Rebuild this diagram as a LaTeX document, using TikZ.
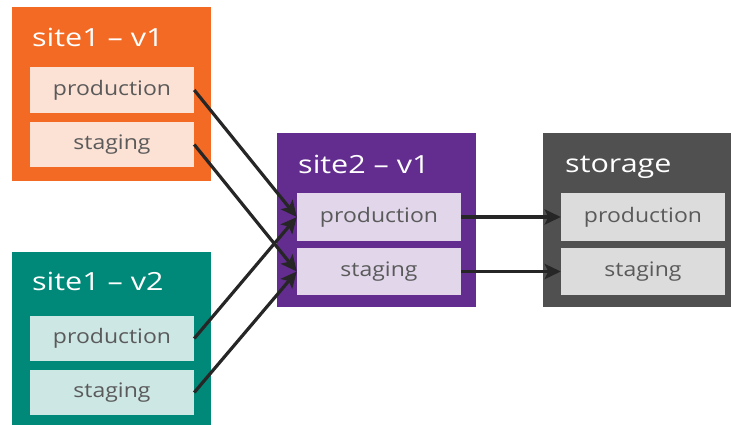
\documentclass[tikz,border=0pt]{standalone}
\usepackage{fontspec}
\setmainfont{Open Sans}
\newfontfamily\slotfont[FakeStretch=1.15]{Open Sans}
\newfontfamily\titlefont[FakeStretch=1.22]{Open Sans}
\usetikzlibrary{arrows.meta}

\definecolor{siteorange}{HTML}{F26A24}
\definecolor{orangelight}{HTML}{FCE1D5}
\definecolor{siteteal}{HTML}{008878}
\definecolor{teallight}{HTML}{CDE7E4}
\definecolor{sitepurple}{HTML}{632D8F}
\definecolor{purplelight}{HTML}{E1D6EA}
\definecolor{storegray}{HTML}{505050}
\definecolor{graylight}{HTML}{DCDCDC}
\definecolor{slottext}{HTML}{5A5A5A}
\definecolor{linkgray}{HTML}{262626}

\begin{document}
\begin{tikzpicture}[x=1pt, y=-1pt,
    >={Stealth[length=16pt, width=15pt, inset=3.5pt]},
    outerbox/.style={anchor=north west, inner sep=0pt, minimum width=199pt, minimum height=174pt},
    slot/.style={minimum width=164pt, minimum height=46pt, inner sep=0pt, text=slottext, font=\slotfont\fontsize{20}{20}\selectfont},
    title/.style={anchor=base west, inner sep=0pt, text=white, font=\titlefont\fontsize{25}{25}\selectfont},
    link/.style={->, line width=3.2pt, draw=linkgray}]
    \useasboundingbox (0,0) rectangle (731,424);
    \clip (0,0) rectangle (731,424);

    % Outer boxes
    \node[outerbox, fill=siteorange] (site1v1) at (12,7) {};
    \node[outerbox, fill=siteteal, minimum height=180pt] (site1v2) at (12,252) {};
    \node[outerbox, fill=sitepurple] (site2v1) at (277,133) {};
    \node[outerbox, fill=storegray, minimum width=200pt] (storage) at (543,133) {};

    % Titles
    \node[title] (site1v1title) at (32,46) {site1 – v1};
    \node[title] (site1v2title) at (32,290) {site1 – v2};
    \node[title] (site2v1title) at (298,173) {site2 – v1};
    \node[title] (storagetitle) at (565,172) {storage};

    % Slots
    \node[slot, fill=orangelight] (s1v1prod) at (112,90) {production};
    \node[slot, fill=orangelight, minimum height=45pt] (s1v1stag) at (112,144.5) {staging};
    \node[slot, fill=teallight, minimum height=45pt] (s1v2prod) at (112,338.5) {production};
    \node[slot, fill=teallight, minimum height=45pt] (s1v2stag) at (112,392.5) {staging};
    \node[slot, fill=purplelight, minimum height=48pt] (s2prod) at (379,217) {production};
    \node[slot, fill=purplelight, minimum height=47pt] (s2stag) at (379,271.5) {staging};
    \node[slot, fill=graylight, minimum height=48pt] (stprod) at (643,217) {production};
    \node[slot, fill=graylight, minimum height=47pt] (ststag) at (643,271.5) {staging};

    % Links
    \draw[link] (s1v1prod.east) -- (s2prod.west);
    \draw[link] (s1v1stag.east) -- (s2stag.west);
    \draw[link] (s1v2prod.east) -- (s2prod.west);
    \draw[link] (s1v2stag.east) -- (s2stag.west);
    \draw[link] (s2prod.east) -- (stprod.west);
    \draw[link] (s2stag.east) -- (ststag.west);
\end{tikzpicture}
\end{document}
